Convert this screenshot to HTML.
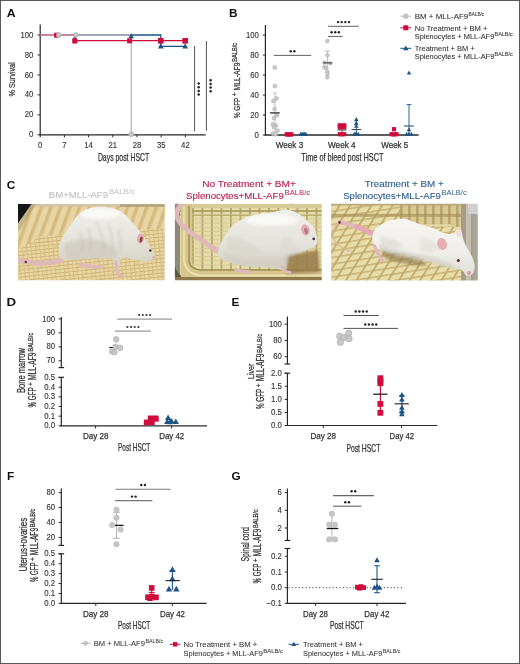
<!DOCTYPE html>
<html><head><meta charset="utf-8"><style>
html,body{margin:0;padding:0;background:#fff;}
svg{display:block;will-change:transform;}
text{font-family:"Liberation Sans", sans-serif;}
</style></head><body>
<svg width="520" height="664" viewBox="0 0 520 664" font-family="'Liberation Sans', sans-serif">
<rect x="0" y="0" width="520" height="664" fill="#fff"/>
<text x="6.70" y="16.60" font-size="11.8" fill="#111" font-weight="bold" textLength="8.90" lengthAdjust="spacingAndGlyphs" >A</text>
<text x="228.90" y="16.50" font-size="11.8" fill="#111" font-weight="bold" >B</text>
<text x="6.80" y="188.90" font-size="11.8" fill="#111" font-weight="bold" >C</text>
<text x="6.40" y="306.00" font-size="11.8" fill="#111" font-weight="bold" textLength="9.60" lengthAdjust="spacingAndGlyphs" >D</text>
<text x="231.60" y="306.00" font-size="11.8" fill="#111" font-weight="bold" >E</text>
<text x="7.00" y="479.70" font-size="11.8" fill="#111" font-weight="bold" >F</text>
<text x="231.40" y="479.90" font-size="11.8" fill="#111" font-weight="bold" >G</text>
<line x1="40.20" y1="24.40" x2="40.20" y2="135.30" stroke="#282828" stroke-width="1.2" />
<line x1="39.60" y1="134.80" x2="205.60" y2="134.80" stroke="#282828" stroke-width="1.2" />
<line x1="37.60" y1="134.80" x2="40.20" y2="134.80" stroke="#282828" stroke-width="1" />
<text x="33.40" y="137.40" font-size="8.4" fill="#333" stroke="#333" stroke-width="0.12" text-anchor="end" textLength="4.30" lengthAdjust="spacingAndGlyphs" >0</text>
<line x1="37.60" y1="114.84" x2="40.20" y2="114.84" stroke="#282828" stroke-width="1" />
<text x="33.40" y="117.44" font-size="8.4" fill="#333" stroke="#333" stroke-width="0.12" text-anchor="end" textLength="8.60" lengthAdjust="spacingAndGlyphs" >20</text>
<line x1="37.60" y1="94.88" x2="40.20" y2="94.88" stroke="#282828" stroke-width="1" />
<text x="33.40" y="97.48" font-size="8.4" fill="#333" stroke="#333" stroke-width="0.12" text-anchor="end" textLength="8.60" lengthAdjust="spacingAndGlyphs" >40</text>
<line x1="37.60" y1="74.92" x2="40.20" y2="74.92" stroke="#282828" stroke-width="1" />
<text x="33.40" y="77.52" font-size="8.4" fill="#333" stroke="#333" stroke-width="0.12" text-anchor="end" textLength="8.60" lengthAdjust="spacingAndGlyphs" >60</text>
<line x1="37.60" y1="54.96" x2="40.20" y2="54.96" stroke="#282828" stroke-width="1" />
<text x="33.40" y="57.56" font-size="8.4" fill="#333" stroke="#333" stroke-width="0.12" text-anchor="end" textLength="8.60" lengthAdjust="spacingAndGlyphs" >80</text>
<line x1="37.60" y1="35.00" x2="40.20" y2="35.00" stroke="#282828" stroke-width="1" />
<text x="33.40" y="37.60" font-size="8.4" fill="#333" stroke="#333" stroke-width="0.12" text-anchor="end" textLength="12.90" lengthAdjust="spacingAndGlyphs" >100</text>
<line x1="40.20" y1="134.80" x2="40.20" y2="137.40" stroke="#282828" stroke-width="1" />
<text x="40.20" y="148.00" font-size="8.4" fill="#333" stroke="#333" stroke-width="0.12" text-anchor="middle" textLength="4.30" lengthAdjust="spacingAndGlyphs" >0</text>
<line x1="64.40" y1="134.80" x2="64.40" y2="137.40" stroke="#282828" stroke-width="1" />
<text x="64.40" y="148.00" font-size="8.4" fill="#333" stroke="#333" stroke-width="0.12" text-anchor="middle" textLength="4.30" lengthAdjust="spacingAndGlyphs" >7</text>
<line x1="88.60" y1="134.80" x2="88.60" y2="137.40" stroke="#282828" stroke-width="1" />
<text x="88.60" y="148.00" font-size="8.4" fill="#333" stroke="#333" stroke-width="0.12" text-anchor="middle" textLength="8.60" lengthAdjust="spacingAndGlyphs" >14</text>
<line x1="112.80" y1="134.80" x2="112.80" y2="137.40" stroke="#282828" stroke-width="1" />
<text x="112.80" y="148.00" font-size="8.4" fill="#333" stroke="#333" stroke-width="0.12" text-anchor="middle" textLength="8.60" lengthAdjust="spacingAndGlyphs" >21</text>
<line x1="137.00" y1="134.80" x2="137.00" y2="137.40" stroke="#282828" stroke-width="1" />
<text x="137.00" y="148.00" font-size="8.4" fill="#333" stroke="#333" stroke-width="0.12" text-anchor="middle" textLength="8.60" lengthAdjust="spacingAndGlyphs" >28</text>
<line x1="161.20" y1="134.80" x2="161.20" y2="137.40" stroke="#282828" stroke-width="1" />
<text x="161.20" y="148.00" font-size="8.4" fill="#333" stroke="#333" stroke-width="0.12" text-anchor="middle" textLength="8.60" lengthAdjust="spacingAndGlyphs" >35</text>
<line x1="185.40" y1="134.80" x2="185.40" y2="137.40" stroke="#282828" stroke-width="1" />
<text x="185.40" y="148.00" font-size="8.4" fill="#333" stroke="#333" stroke-width="0.12" text-anchor="middle" textLength="8.60" lengthAdjust="spacingAndGlyphs" >42</text>
<text x="97.90" y="161.30" font-size="10.2" fill="#333" stroke="#333" stroke-width="0.25" textLength="51.30" lengthAdjust="spacingAndGlyphs" >Days post HSCT</text>
<g transform="translate(15.40 96.50) rotate(-90)"><text x="0" y="0" font-size="9.6" fill="#333" stroke="#333" stroke-width="0.25" textLength="34.20" lengthAdjust="spacingAndGlyphs">% Survival</text></g>
<polyline points="40.2,35.000000000000014 74.8,35.000000000000014 74.8,40.6 185.2,40.6" fill="none" stroke="#cf0a3c" stroke-width="1.3"/>
<polyline points="74.8,35.000000000000014 160.8,35.000000000000014 160.8,46.3 185.2,46.3" fill="none" stroke="#1d5487" stroke-width="1.3"/>
<polyline points="40.2,35.000000000000014 74.8,35.000000000000014" fill="none" stroke="#b9b9b9" stroke-width="1.3" opacity="0.75"/>
<polyline points="74.8,35.000000000000014 131.3,35.000000000000014 131.3,134.8" fill="none" stroke="#b9b9b9" stroke-width="1.3"/>
<rect x="54.10" y="32.70" width="5" height="5" fill="#cf0a3c"/>
<circle cx="58.80" cy="35.00" r="2.5" fill="#c4c4c4" stroke="#aaa" stroke-width="0.6"/>
<path d="M74.80 35.53L77.55 40.48L72.05 40.48Z" fill="#1d5487"/>
<rect x="72.30" y="38.50" width="5" height="5" fill="#cf0a3c"/>
<circle cx="75.80" cy="35.00" r="2.5" fill="#c4c4c4" stroke="#aaa" stroke-width="0.6"/>
<path d="M131.20 33.33L133.95 38.28L128.45 38.28Z" fill="#1d5487"/>
<rect x="127.10" y="38.30" width="5" height="5" fill="#cf0a3c"/>
<circle cx="131.30" cy="134.20" r="2.5" fill="#c4c4c4" stroke="#aaa" stroke-width="0.6"/>
<rect x="158.00" y="38.00" width="5.6" height="5.6" fill="#cf0a3c"/>
<path d="M160.80 43.37L163.70 48.59L157.90 48.59Z" fill="#1d5487"/>
<rect x="182.40" y="38.00" width="5.6" height="5.6" fill="#cf0a3c"/>
<path d="M185.20 43.37L188.10 48.59L182.30 48.59Z" fill="#1d5487"/>
<line x1="194.60" y1="46.00" x2="194.60" y2="131.30" stroke="#555" stroke-width="1" />
<line x1="206.40" y1="41.00" x2="206.40" y2="130.60" stroke="#555" stroke-width="1" />
<circle cx="198.7" cy="83.50" r="1.25" fill="#222"/>
<circle cx="198.7" cy="87.20" r="1.25" fill="#222"/>
<circle cx="198.7" cy="90.90" r="1.25" fill="#222"/>
<circle cx="198.7" cy="94.60" r="1.25" fill="#222"/>
<circle cx="210.6" cy="80.20" r="1.25" fill="#222"/>
<circle cx="210.6" cy="83.90" r="1.25" fill="#222"/>
<circle cx="210.6" cy="87.60" r="1.25" fill="#222"/>
<circle cx="210.6" cy="91.30" r="1.25" fill="#222"/>
<line x1="265.40" y1="25.00" x2="265.40" y2="135.50" stroke="#282828" stroke-width="1.2" />
<line x1="264.80" y1="135.00" x2="418.60" y2="135.00" stroke="#282828" stroke-width="1.5" />
<line x1="262.80" y1="135.00" x2="265.40" y2="135.00" stroke="#282828" stroke-width="1" />
<text x="258.90" y="137.60" font-size="8.4" fill="#333" stroke="#333" stroke-width="0.12" text-anchor="end" textLength="4.30" lengthAdjust="spacingAndGlyphs" >0</text>
<line x1="262.80" y1="115.00" x2="265.40" y2="115.00" stroke="#282828" stroke-width="1" />
<text x="258.90" y="117.60" font-size="8.4" fill="#333" stroke="#333" stroke-width="0.12" text-anchor="end" textLength="8.60" lengthAdjust="spacingAndGlyphs" >20</text>
<line x1="262.80" y1="95.00" x2="265.40" y2="95.00" stroke="#282828" stroke-width="1" />
<text x="258.90" y="97.60" font-size="8.4" fill="#333" stroke="#333" stroke-width="0.12" text-anchor="end" textLength="8.60" lengthAdjust="spacingAndGlyphs" >40</text>
<line x1="262.80" y1="75.00" x2="265.40" y2="75.00" stroke="#282828" stroke-width="1" />
<text x="258.90" y="77.60" font-size="8.4" fill="#333" stroke="#333" stroke-width="0.12" text-anchor="end" textLength="8.60" lengthAdjust="spacingAndGlyphs" >60</text>
<line x1="262.80" y1="55.00" x2="265.40" y2="55.00" stroke="#282828" stroke-width="1" />
<text x="258.90" y="57.60" font-size="8.4" fill="#333" stroke="#333" stroke-width="0.12" text-anchor="end" textLength="8.60" lengthAdjust="spacingAndGlyphs" >80</text>
<line x1="262.80" y1="35.00" x2="265.40" y2="35.00" stroke="#282828" stroke-width="1" />
<text x="258.90" y="37.60" font-size="8.4" fill="#333" stroke="#333" stroke-width="0.12" text-anchor="end" textLength="12.90" lengthAdjust="spacingAndGlyphs" >100</text>
<g transform="translate(239.90 118.00) rotate(-90)">
<text x="0" y="0" font-size="9.6" fill="#333" stroke="#333" stroke-width="0.25" textLength="20.15" lengthAdjust="spacingAndGlyphs">% GFP</text>
<text x="21.66" y="-3.2" font-size="6.4" fill="#333" stroke="#333" stroke-width="0.25">+</text>
<text x="27.60" y="0" font-size="9.6" fill="#333" stroke="#333" stroke-width="0.25" textLength="27.82" lengthAdjust="spacingAndGlyphs">MLL-AF9</text>
<text x="56.25" y="-2.8" font-size="6.8" fill="#333" stroke="#333" stroke-width="0.25" textLength="18.95" lengthAdjust="spacingAndGlyphs">BALB/c</text>
</g>
<text x="275.80" y="147.80" font-size="8.7" fill="#333" stroke="#333" stroke-width="0.25" textLength="27.40" lengthAdjust="spacingAndGlyphs" >Week 3</text>
<text x="328.00" y="147.80" font-size="8.7" fill="#333" stroke="#333" stroke-width="0.25" textLength="27.60" lengthAdjust="spacingAndGlyphs" >Week 4</text>
<text x="381.30" y="147.80" font-size="8.7" fill="#333" stroke="#333" stroke-width="0.25" textLength="27.00" lengthAdjust="spacingAndGlyphs" >Week 5</text>
<text x="301.30" y="160.80" font-size="10.2" fill="#333" stroke="#333" stroke-width="0.25" textLength="82.20" lengthAdjust="spacingAndGlyphs" >Time of bleed post HSCT</text>
<line x1="275.00" y1="93.10" x2="275.00" y2="134.00" stroke="#b0b0b0" stroke-width="0.8" />
<line x1="272.90" y1="93.10" x2="277.10" y2="93.10" stroke="#b0b0b0" stroke-width="0.8" />
<circle cx="274.90" cy="67.50" r="2.0" fill="#c9c9c9" stroke="#adadad" stroke-width="0.5"/>
<circle cx="274.90" cy="86.00" r="2.0" fill="#c9c9c9" stroke="#adadad" stroke-width="0.5"/>
<circle cx="276.30" cy="98.40" r="2.0" fill="#c9c9c9" stroke="#adadad" stroke-width="0.5"/>
<circle cx="273.40" cy="100.90" r="2.0" fill="#c9c9c9" stroke="#adadad" stroke-width="0.5"/>
<circle cx="274.60" cy="108.90" r="2.0" fill="#c9c9c9" stroke="#adadad" stroke-width="0.5"/>
<circle cx="276.90" cy="115.20" r="2.0" fill="#c9c9c9" stroke="#adadad" stroke-width="0.5"/>
<circle cx="274.00" cy="118.00" r="2.0" fill="#c9c9c9" stroke="#adadad" stroke-width="0.5"/>
<circle cx="272.90" cy="124.40" r="2.0" fill="#c9c9c9" stroke="#adadad" stroke-width="0.5"/>
<circle cx="275.70" cy="125.50" r="2.0" fill="#c9c9c9" stroke="#adadad" stroke-width="0.5"/>
<circle cx="274.00" cy="127.20" r="2.0" fill="#c9c9c9" stroke="#adadad" stroke-width="0.5"/>
<circle cx="277.40" cy="130.60" r="2.0" fill="#c9c9c9" stroke="#adadad" stroke-width="0.5"/>
<circle cx="272.90" cy="133.60" r="2.0" fill="#c9c9c9" stroke="#adadad" stroke-width="0.5"/>
<circle cx="275.50" cy="134.20" r="2.0" fill="#c9c9c9" stroke="#adadad" stroke-width="0.5"/>
<line x1="270.00" y1="112.90" x2="279.70" y2="112.90" stroke="#222" stroke-width="1.2" />
<rect x="284.50" y="132.30" width="4.2" height="4.2" fill="#cf0a3c"/>
<rect x="286.10" y="132.30" width="4.2" height="4.2" fill="#cf0a3c"/>
<rect x="287.70" y="132.30" width="4.2" height="4.2" fill="#cf0a3c"/>
<rect x="289.30" y="132.30" width="4.2" height="4.2" fill="#cf0a3c"/>
<path d="M300.70 131.72L303.00 135.86L298.40 135.86Z" fill="#1d5487"/>
<path d="M302.00 131.72L304.30 135.86L299.70 135.86Z" fill="#1d5487"/>
<path d="M303.30 131.72L305.60 135.86L301.00 135.86Z" fill="#1d5487"/>
<path d="M304.60 131.72L306.90 135.86L302.30 135.86Z" fill="#1d5487"/>
<path d="M305.90 131.72L308.20 135.86L303.60 135.86Z" fill="#1d5487"/>
<line x1="327.40" y1="51.00" x2="327.40" y2="75.00" stroke="#b0b0b0" stroke-width="0.8" />
<line x1="324.60" y1="51.00" x2="330.20" y2="51.00" stroke="#b0b0b0" stroke-width="0.8" />
<circle cx="327.40" cy="41.00" r="1.9" fill="#c9c9c9" stroke="#adadad" stroke-width="0.5"/>
<circle cx="327.40" cy="55.20" r="1.9" fill="#c9c9c9" stroke="#adadad" stroke-width="0.5"/>
<circle cx="324.50" cy="62.60" r="1.9" fill="#c9c9c9" stroke="#adadad" stroke-width="0.5"/>
<circle cx="330.30" cy="63.40" r="1.9" fill="#c9c9c9" stroke="#adadad" stroke-width="0.5"/>
<circle cx="324.40" cy="67.20" r="1.9" fill="#c9c9c9" stroke="#adadad" stroke-width="0.5"/>
<circle cx="326.40" cy="68.00" r="1.9" fill="#c9c9c9" stroke="#adadad" stroke-width="0.5"/>
<circle cx="327.40" cy="71.90" r="1.9" fill="#c9c9c9" stroke="#adadad" stroke-width="0.5"/>
<circle cx="327.40" cy="74.20" r="1.9" fill="#c9c9c9" stroke="#adadad" stroke-width="0.5"/>
<circle cx="327.40" cy="77.30" r="1.9" fill="#c9c9c9" stroke="#adadad" stroke-width="0.5"/>
<line x1="323.30" y1="62.90" x2="332.30" y2="62.90" stroke="#333" stroke-width="1.0" />
<line x1="342.00" y1="125.00" x2="342.00" y2="134.00" stroke="#cf0a3c" stroke-width="0.8" />
<rect x="337.70" y="123.20" width="4.2" height="4.2" fill="#cf0a3c"/>
<rect x="342.10" y="123.20" width="4.2" height="4.2" fill="#cf0a3c"/>
<rect x="337.70" y="125.10" width="4.2" height="4.2" fill="#cf0a3c"/>
<rect x="342.10" y="125.10" width="4.2" height="4.2" fill="#cf0a3c"/>
<rect x="339.90" y="123.90" width="4.2" height="4.2" fill="#cf0a3c"/>
<rect x="337.70" y="132.10" width="4.2" height="4.2" fill="#cf0a3c"/>
<rect x="342.10" y="132.10" width="4.2" height="4.2" fill="#cf0a3c"/>
<rect x="339.90" y="132.10" width="4.2" height="4.2" fill="#cf0a3c"/>
<line x1="337.50" y1="130.00" x2="346.50" y2="130.00" stroke="#333" stroke-width="1" />
<line x1="356.30" y1="119.00" x2="356.30" y2="134.00" stroke="#1d5487" stroke-width="0.8" />
<path d="M356.30 117.12L358.60 121.26L354.00 121.26Z" fill="#1d5487"/>
<path d="M356.30 120.82L358.60 124.96L354.00 124.96Z" fill="#1d5487"/>
<path d="M356.30 123.72L358.60 127.86L354.00 127.86Z" fill="#1d5487"/>
<path d="M354.30 131.72L356.60 135.86L352.00 135.86Z" fill="#1d5487"/>
<path d="M358.30 131.72L360.60 135.86L356.00 135.86Z" fill="#1d5487"/>
<path d="M356.30 131.12L358.60 135.26L354.00 135.26Z" fill="#1d5487"/>
<line x1="351.50" y1="129.60" x2="361.10" y2="129.60" stroke="#333" stroke-width="1" />
<rect x="391.90" y="127.10" width="4.2" height="4.2" fill="#cf0a3c"/>
<rect x="389.40" y="132.10" width="4.2" height="4.2" fill="#cf0a3c"/>
<rect x="394.40" y="132.10" width="4.2" height="4.2" fill="#cf0a3c"/>
<rect x="391.90" y="132.30" width="4.2" height="4.2" fill="#cf0a3c"/>
<line x1="409.00" y1="104.60" x2="409.00" y2="134.00" stroke="#1d5487" stroke-width="0.9" />
<line x1="406.60" y1="104.60" x2="411.40" y2="104.60" stroke="#1d5487" stroke-width="0.9" />
<line x1="404.00" y1="126.00" x2="413.80" y2="126.00" stroke="#1d5487" stroke-width="1.1" />
<path d="M409.00 70.42L411.20 74.38L406.80 74.38Z" fill="#1d5487"/>
<path d="M409.00 127.22L411.20 131.18L406.80 131.18Z" fill="#1d5487"/>
<path d="M406.60 131.82L408.80 135.78L404.40 135.78Z" fill="#1d5487"/>
<path d="M411.40 131.82L413.60 135.78L409.20 135.78Z" fill="#1d5487"/>
<path d="M409.00 131.82L411.20 135.78L406.80 135.78Z" fill="#1d5487"/>
<line x1="273.75" y1="55.40" x2="311.25" y2="55.40" stroke="#5a5a5a" stroke-width="0.95" />
<circle cx="290.68" cy="51.30" r="1.2" fill="#222"/>
<circle cx="294.32" cy="51.30" r="1.2" fill="#222"/>
<line x1="327.90" y1="36.40" x2="342.60" y2="36.40" stroke="#5a5a5a" stroke-width="0.95" />
<circle cx="331.60" cy="32.20" r="1.2" fill="#222"/>
<circle cx="335.25" cy="32.20" r="1.2" fill="#222"/>
<circle cx="338.90" cy="32.20" r="1.2" fill="#222"/>
<line x1="328.20" y1="26.30" x2="358.80" y2="26.30" stroke="#5a5a5a" stroke-width="0.95" />
<circle cx="338.02" cy="22.10" r="1.2" fill="#222"/>
<circle cx="341.67" cy="22.10" r="1.2" fill="#222"/>
<circle cx="345.32" cy="22.10" r="1.2" fill="#222"/>
<circle cx="348.97" cy="22.10" r="1.2" fill="#222"/>
<line x1="400.30" y1="16.20" x2="411.30" y2="16.20" stroke="#bbb" stroke-width="1" />
<circle cx="405.80" cy="16.20" r="2.4" fill="#c4c4c4" stroke="#b0b0b0" stroke-width="0.5"/>
<line x1="400.30" y1="27.80" x2="411.30" y2="27.80" stroke="#cf0a3c" stroke-width="1" />
<rect x="403.30" y="25.30" width="5.0" height="5.0" fill="#cf0a3c"/>
<line x1="400.30" y1="48.30" x2="411.30" y2="48.30" stroke="#1d5487" stroke-width="1" />
<path d="M405.80 45.38L408.50 50.24L403.10 50.24Z" fill="#1d5487"/>
<text x="414.70" y="19.00" font-size="7.6" fill="#333" stroke="#333" stroke-width="0.08" textLength="53.60" lengthAdjust="spacingAndGlyphs" >BM + MLL-AF9</text>
<text x="468.60" y="15.60" font-size="5.2" fill="#333" stroke="#333" stroke-width="0.08" textLength="15.60" lengthAdjust="spacingAndGlyphs" >BALB/c</text>
<text x="414.70" y="30.90" font-size="7.6" fill="#333" stroke="#333" stroke-width="0.08" textLength="72.80" lengthAdjust="spacingAndGlyphs" >No Treatment + BM +</text>
<text x="414.70" y="39.30" font-size="7.6" fill="#333" stroke="#333" stroke-width="0.08" textLength="79.60" lengthAdjust="spacingAndGlyphs" >Splenocytes + MLL-AF9</text>
<text x="494.60" y="35.90" font-size="5.2" fill="#333" stroke="#333" stroke-width="0.08" textLength="18.00" lengthAdjust="spacingAndGlyphs" >BALB/c</text>
<text x="414.70" y="51.00" font-size="7.6" fill="#333" stroke="#333" stroke-width="0.08" textLength="60.00" lengthAdjust="spacingAndGlyphs" >Treatment + BM +</text>
<text x="414.70" y="59.40" font-size="7.6" fill="#333" stroke="#333" stroke-width="0.08" textLength="79.60" lengthAdjust="spacingAndGlyphs" >Splenocytes + MLL-AF9</text>
<text x="494.60" y="56.00" font-size="5.2" fill="#333" stroke="#333" stroke-width="0.08" textLength="18.00" lengthAdjust="spacingAndGlyphs" >BALB/c</text>
<defs>
<filter id="bl" x="-5%" y="-5%" width="110%" height="110%"><feGaussianBlur stdDeviation="0.75"/></filter>
<filter id="bl2" x="-30%" y="-30%" width="160%" height="160%"><feGaussianBlur stdDeviation="1.8"/></filter>
<filter id="bl3" x="-30%" y="-30%" width="160%" height="160%"><feGaussianBlur stdDeviation="3"/></filter>
<pattern id="p1" patternUnits="userSpaceOnUse" width="9" height="9" patternTransform="rotate(20)">
<rect width="9" height="9" fill="#e7d5a3"/><rect width="3.6" height="9" fill="#d5bb80"/></pattern>
<pattern id="p1b" patternUnits="userSpaceOnUse" width="4.4" height="3.6" patternTransform="rotate(-6)">
<rect width="4.4" height="3.6" fill="#ead9a6"/><rect width="4.4" height="1.0" fill="#c9ad6e"/><rect width="1.0" height="3.6" fill="#d4ba7e"/></pattern>
<pattern id="p2" patternUnits="userSpaceOnUse" width="9.5" height="4.2" x="2">
<rect width="9.5" height="4.2" fill="#e4dbab"/><rect width="1.8" height="4.2" fill="#b9a768"/><rect width="9.5" height="0.7" fill="#d3c68c"/></pattern>
<pattern id="p3" patternUnits="userSpaceOnUse" width="9" height="9" patternTransform="rotate(32)">
<rect width="9" height="9" fill="#e8dda9"/><rect width="1.6" height="9" fill="#bba466"/></pattern>
<pattern id="p3h" patternUnits="userSpaceOnUse" width="9" height="6.5" patternTransform="rotate(-9)">
<rect width="9" height="1.5" fill="#c0aa6c"/></pattern>
<pattern id="p3b" patternUnits="userSpaceOnUse" width="8" height="20">
<rect width="8" height="20" fill="#d8c893"/><rect width="2.6" height="20" fill="#b9a46a"/></pattern>
<linearGradient id="wb1" x1="0" y1="0" x2="0" y2="1"><stop offset="0" stop-color="#f1f0ec"/><stop offset="0.5" stop-color="#e6e4dd"/><stop offset="1" stop-color="#d2cec2"/></linearGradient>
<linearGradient id="wb2" x1="0" y1="0" x2="0" y2="1"><stop offset="0" stop-color="#efeeea"/><stop offset="0.55" stop-color="#e3e2dc"/><stop offset="1" stop-color="#d0cdc2"/></linearGradient>
<linearGradient id="wb3" x1="0" y1="0" x2="0" y2="1"><stop offset="0" stop-color="#f6f5f2"/><stop offset="0.6" stop-color="#efeeea"/><stop offset="1" stop-color="#e0ddd6"/></linearGradient>
<clipPath id="c1"><rect x="18" y="204.1" width="146.8" height="76.2"/></clipPath>
<clipPath id="c2"><rect x="174.9" y="203.8" width="146.9" height="76.5"/></clipPath>
<clipPath id="c3"><rect x="331.1" y="203.8" width="146.7" height="76.6"/></clipPath>
</defs>
<g clip-path="url(#c1)"><g filter="url(#bl)">
<rect x="18" y="204" width="147" height="77" fill="url(#p1)"/>
<path d="M18 250 L40 236 L165 228 L165 281 L18 281 Z" fill="url(#p1b)" opacity="0.85"/>
<rect x="18" y="204" width="147" height="2.6" fill="#cfc6a8"/>
<rect x="120" y="204" width="45" height="3" fill="#a89a70" opacity="0.7"/>
<path d="M16 202 L33 202 L26 212 L16 226 Z" fill="#151515"/>
<path d="M33 202 L37 202 L20 230 L16 232 L16 226 Z" fill="#8a7a5a" opacity="0.35"/>
<path d="M15.0 259.5C16.7 259.8 21.0 260.9 25.0 261.5C29.0 262.1 34.8 263.1 39.0 263.3C43.2 263.5 46.3 263.0 50.0 262.5C53.7 262.0 59.2 260.8 61.0 260.5" fill="none" stroke="#dfb9ba" stroke-width="5.0" stroke-linecap="round" stroke-linejoin="round" opacity="1"/>
<circle cx="25.8" cy="262" r="1.3" fill="#5a3a3a"/>
<path d="M60.0 258.0C58.2 255.8 59.2 249.3 59.5 246.0C59.8 242.7 60.1 241.5 62.0 238.0C63.9 234.5 67.8 229.0 70.6 225.0C73.4 221.0 75.4 216.9 79.0 214.0C82.6 211.1 87.7 208.7 92.0 207.5C96.3 206.3 101.5 206.8 105.0 207.0C108.5 207.2 110.2 207.5 113.3 208.5C116.3 209.5 120.2 210.8 123.3 213.0C126.4 215.2 129.2 219.2 131.8 222.0C134.4 224.8 136.6 227.0 139.0 230.0C141.4 233.0 144.0 237.0 146.0 240.0C148.0 243.0 149.6 245.3 151.0 248.0C152.4 250.7 154.3 254.1 154.5 256.0C154.7 257.9 153.4 258.6 152.0 259.5C150.6 260.4 148.3 261.4 146.0 261.5C143.7 261.6 141.0 260.5 138.0 260.0C135.0 259.5 130.8 258.7 128.0 258.5C125.2 258.3 122.5 257.4 121.0 259.0C119.5 260.6 120.0 266.5 119.0 268.0C118.0 269.5 116.2 269.5 115.0 268.0C113.8 266.5 114.5 260.7 112.0 259.0C109.5 257.3 104.5 258.1 100.0 258.0C95.5 257.9 90.0 258.2 85.0 258.5C80.0 258.8 74.2 259.6 70.0 259.5C65.8 259.4 61.8 260.2 60.0 258.0Z" fill="url(#wb1)"/>
<g filter="url(#bl2)">
<path d="M64 244 Q80 236 98 240 Q112 244 118 252 L116 258 Q95 259 70 259 Q62 254 64 244Z" fill="#cfcbc0" opacity="0.75"/>
<path d="M96 222 Q104 236 104 250 M108 224 Q114 238 112 252 M88 228 Q92 240 90 250 M80 232 Q84 242 82 252 M118 230 Q122 240 120 250" stroke="#bdbab0" stroke-width="1.3" fill="none" opacity="0.65"/>
<ellipse cx="100" cy="214" rx="20" ry="5" fill="#fbfbfa" opacity="0.9"/>
</g>
<path d="M80.0 264.5C81.7 264.8 86.5 266.1 90.0 266.5C93.5 266.9 99.2 266.9 101.0 267.0" fill="none" stroke="#dfb9ba" stroke-width="3.6" stroke-linecap="round" stroke-linejoin="round" opacity="1"/>
<path d="M116.0 262.0C116.2 263.3 116.5 267.8 117.0 270.0C117.5 272.2 118.7 274.6 119.0 275.5" fill="none" stroke="#dfb9ba" stroke-width="3.2" stroke-linecap="round" stroke-linejoin="round" opacity="1"/>
<path d="M119.0 275.5C119.7 275.6 122.3 275.9 123.0 276.0" fill="none" stroke="#dfb9ba" stroke-width="2.6" stroke-linecap="round" stroke-linejoin="round" opacity="1"/>
<ellipse cx="140.5" cy="238.5" rx="3.4" ry="5.2" fill="#e4a9b2" transform="rotate(12 140.5 238.5)"/>
<ellipse cx="141.2" cy="239.5" rx="1.5" ry="3" fill="#8a4a55" transform="rotate(12 141.2 239.5)"/>
<circle cx="150.3" cy="250.5" r="1.3" fill="#3e3438"/>
<circle cx="153.6" cy="257.4" r="1.2" fill="#d9a8ad"/>
</g></g>
<g clip-path="url(#c2)"><g filter="url(#bl)">
<rect x="175" y="204" width="147" height="77" fill="url(#p2)"/>
<rect x="175" y="204" width="147" height="4" fill="#d6cc9a"/>
<rect x="175" y="210.4" width="147" height="1.3" fill="#9c8c50"/>
<rect x="175" y="214.8" width="147" height="1.0" fill="#b4a468"/>
<path d="M174 203 L180 203 L180 281 L174 281 Z" fill="#8d887a"/>
<path d="M174 262 Q176 276 190 281 L174 281 Z" fill="#5e5840"/>
<path d="M181 204 L192 204 L192 262 Q194 270 204 271 L322 271 L322 281 L181 281 Z" fill="#d6c68c"/>
<path d="M184 206 L184 262 Q187 274 200 275.5 L322 275.5" fill="none" stroke="#efe4b4" stroke-width="1.6"/>
<path d="M189 206 L189 262 Q191 269 200 270 L322 270" fill="none" stroke="#9f8a4c" stroke-width="1.4"/>
<rect x="175" y="277" width="147" height="4" fill="#8f7a4c"/>
<path d="M182.0 203.0C181.3 204.0 178.9 207.1 178.0 209.0C177.1 210.9 176.3 212.7 176.5 214.7C176.7 216.7 177.9 219.1 179.0 221.0C180.1 222.9 181.2 224.2 183.0 226.0C184.8 227.8 187.7 230.2 190.0 232.0C192.3 233.8 194.3 235.1 197.0 237.0C199.7 238.9 203.5 241.8 206.0 243.5C208.5 245.2 209.8 246.2 212.0 247.5C214.2 248.8 217.8 250.8 219.0 251.5" fill="none" stroke="#dfb9ba" stroke-width="5.0" stroke-linecap="round" stroke-linejoin="round" opacity="1"/>
<path d="M286 203 Q292 206 296 203 Z" fill="#dcb6b0"/>
<path d="M218.0 252.0C218.1 249.7 219.1 246.9 220.4 244.0C221.7 241.1 223.7 237.9 226.0 234.6C228.3 231.3 230.2 227.3 234.2 224.2C238.2 221.1 244.0 217.9 250.0 216.0C256.0 214.1 263.8 213.6 270.0 212.5C276.2 211.4 282.2 209.4 287.0 209.7C291.8 209.9 295.4 211.9 299.0 214.0C302.6 216.1 306.0 219.3 308.7 222.0C311.4 224.7 313.6 227.3 315.0 230.0C316.4 232.7 316.8 235.5 317.0 238.0C317.2 240.5 317.8 242.7 316.0 244.8C314.2 246.9 310.0 248.4 306.0 250.5C302.0 252.6 295.2 255.0 292.0 257.6C288.8 260.2 288.2 263.6 287.0 266.0C285.8 268.4 285.6 271.3 284.6 272.0C283.6 272.7 283.4 270.8 281.0 270.0C278.6 269.2 274.3 268.0 270.0 267.5C265.7 267.0 260.0 267.4 255.0 267.0C250.0 266.6 244.5 265.8 240.0 265.0C235.5 264.2 231.3 263.2 228.0 262.0C224.7 260.8 221.7 259.7 220.0 258.0C218.3 256.3 217.9 254.3 218.0 252.0Z" fill="url(#wb2)"/>
<g filter="url(#bl2)">
<path d="M224 252 Q250 262 278 258 Q290 254 298 250 Q292 262 284 268 Q260 268 236 264 Q224 260 224 252Z" fill="#d2cec2" opacity="0.75"/>
<path d="M228 236 Q250 240 262 252 Q250 258 232 254 Q224 246 228 236Z" fill="#d9d6cc" opacity="0.7"/>
<path d="M284 236 Q296 240 300 250 Q292 256 282 252 Q278 244 284 236Z" fill="#dcd9d0" opacity="0.6"/>
<ellipse cx="272" cy="220" rx="26" ry="6" fill="#fafaf8" opacity="0.9"/>
<path d="M288 256 Q304 252 318 250 L320 272 L286 274 Z" fill="#957a48" opacity="0.85"/>
</g>
<path d="M236.0 269.5C237.2 269.8 240.7 271.1 243.0 271.5C245.3 271.9 248.8 271.9 250.0 272.0" fill="none" stroke="#dfb9ba" stroke-width="3.4" stroke-linecap="round" stroke-linejoin="round" opacity="1"/>
<path d="M282.0 266.0C282.5 266.8 283.7 269.9 285.0 271.0C286.3 272.1 289.2 272.2 290.0 272.5" fill="none" stroke="#dfb9ba" stroke-width="3.0" stroke-linecap="round" stroke-linejoin="round" opacity="1"/>
<ellipse cx="305.5" cy="230" rx="4.2" ry="5.6" fill="#e2acb2" transform="rotate(-15 305.5 230)"/>
<ellipse cx="306" cy="231" rx="1.8" ry="3.2" fill="#b87a85" transform="rotate(-15 306 231)"/>
<circle cx="313.7" cy="238.9" r="1.3" fill="#3e3438"/>
</g></g>
<g clip-path="url(#c3)"><g filter="url(#bl)">
<rect x="331" y="203" width="147" height="78" fill="url(#p3)"/>
<rect x="331" y="203" width="147" height="78" fill="url(#p3h)" opacity="0.85"/>
<rect x="400" y="203" width="62" height="24" fill="url(#p3b)"/>
<rect x="331" y="213.8" width="130" height="3" fill="#a8925a" opacity="0.7"/>
<rect x="405" y="224.3" width="46" height="2.2" fill="#e6d8a8"/>
<rect x="331" y="203" width="147" height="2.5" fill="#b9a87a"/>
<rect x="461" y="203" width="17" height="78" fill="#a59d8b"/>
<rect x="466" y="203" width="5" height="78" fill="#c4beae"/>
<rect x="468" y="203" width="10" height="11" fill="#cfcfcd"/>
<rect x="473" y="214" width="5" height="67" fill="#aaa69a"/>
<path d="M339.5 222.5C340.6 222.7 343.9 223.0 346.0 223.5C348.1 224.0 349.4 224.3 352.3 225.3C355.2 226.3 360.2 228.2 363.7 229.6C367.2 231.0 371.9 233.3 373.5 234.0" fill="none" stroke="#dfb9ba" stroke-width="4.0" stroke-linecap="round" stroke-linejoin="round" opacity="1"/>
<path d="M356.0 226.5C357.3 227.0 360.8 228.3 363.7 229.6C366.6 230.8 371.9 233.3 373.5 234.0" fill="none" stroke="#e2a9b1" stroke-width="5.4" stroke-linecap="round" stroke-linejoin="round" opacity="1"/>
<circle cx="339.5" cy="222.5" r="1.4" fill="#4a3a3a"/>
<path d="M338.0 223.0C337.2 224.2 334.2 227.5 333.5 230.0C332.8 232.5 333.4 235.7 334.0 238.0C334.6 240.3 335.2 242.2 337.0 244.0C338.8 245.8 342.5 247.7 345.0 249.0C347.5 250.3 350.8 251.5 352.0 252.0" fill="none" stroke="#dcb3aa" stroke-width="1.4" stroke-linecap="round" stroke-linejoin="round" opacity="0.8"/>
<path d="M372.3 238.0C372.2 235.8 372.8 233.9 373.7 232.0C374.6 230.1 375.6 228.6 378.0 226.8C380.4 225.0 384.4 222.3 388.0 221.0C391.6 219.7 396.5 219.4 399.3 219.0C402.1 218.6 401.7 218.0 405.0 218.8C408.3 219.6 414.4 222.4 419.2 224.0C423.9 225.6 429.7 226.8 433.5 228.2C437.3 229.6 438.9 231.4 442.0 232.4C445.1 233.4 449.5 234.4 452.0 234.0C454.5 233.6 455.5 230.6 457.0 230.0C458.5 229.4 460.0 229.2 461.0 230.5C462.0 231.8 462.2 235.4 463.0 238.0C463.8 240.6 464.5 243.0 466.0 246.0C467.5 249.0 470.4 252.9 471.9 256.2C473.3 259.5 474.6 263.0 474.7 266.0C474.8 269.0 473.9 272.4 472.5 274.0C471.1 275.6 467.8 276.1 466.0 275.5C464.2 274.9 464.9 271.9 461.9 270.4C458.8 268.8 452.4 267.6 447.7 266.2C443.0 264.8 438.2 263.4 433.5 262.0C428.8 260.6 423.9 259.0 419.2 257.6C414.4 256.2 410.2 254.3 405.0 253.4C399.8 252.5 392.5 252.7 388.0 252.0C383.5 251.3 380.3 250.2 378.0 249.0C375.7 247.8 374.9 246.8 374.0 245.0C373.1 243.2 372.4 240.2 372.3 238.0Z" fill="url(#wb3)"/>
<g filter="url(#bl2)">
<path d="M380 250 Q400 254 420 258 L428 266 Q404 265 386 259 Z" fill="#8e7448" opacity="0.65"/>
<path d="M378 244 Q400 252 430 256 Q450 262 462 270 Q445 268 428 262 Q400 256 380 250Z" fill="#d6d2c8" opacity="0.8"/>
<path d="M380 236 Q395 238 405 246 Q395 250 382 246 Z" fill="#dedbd3" opacity="0.7"/>
<path d="M420 236 Q435 238 440 250 Q430 254 420 250 Z" fill="#e0ddd6" opacity="0.6"/>
</g>
<path d="M374.5 246.0C374.9 247.0 375.9 250.0 377.0 252.0C378.1 254.0 380.0 256.5 381.0 258.0C382.0 259.5 382.7 260.5 383.0 261.0" fill="none" stroke="#dfb9ba" stroke-width="3.2" stroke-linecap="round" stroke-linejoin="round" opacity="1"/>
<ellipse cx="442" cy="244" rx="4.8" ry="6.2" fill="#e6afb5" transform="rotate(-20 442 244)"/>
<ellipse cx="459" cy="233.5" rx="2.6" ry="3.8" fill="#f2dcdc"/>
<circle cx="458.3" cy="260.5" r="1.5" fill="#6a2030"/>
<circle cx="469" cy="273" r="2" fill="#dc9ca4"/>
</g></g>
<text x="48.80" y="198.20" font-size="9.5" fill="#c0c0c0" stroke="#c0c0c0" stroke-width="0.12" textLength="59.20" lengthAdjust="spacingAndGlyphs" >BM+MLL-AF9</text>
<text x="108.90" y="194.30" font-size="6.4" fill="#c0c0c0" textLength="26.00" lengthAdjust="spacingAndGlyphs" >BALB/c</text>
<text x="202.20" y="186.80" font-size="9.5" fill="#b4204c" stroke="#b4204c" stroke-width="0.12" textLength="93.70" lengthAdjust="spacingAndGlyphs" >No Treatment + BM+</text>
<text x="186.00" y="199.20" font-size="9.5" fill="#b4204c" stroke="#b4204c" stroke-width="0.12" textLength="97.80" lengthAdjust="spacingAndGlyphs" >Splenocytes+MLL-AF9</text>
<text x="284.50" y="195.20" font-size="6.4" fill="#b4204c" textLength="25.70" lengthAdjust="spacingAndGlyphs" >BALB/c</text>
<text x="364.80" y="186.80" font-size="9.5" fill="#2d5e8e" stroke="#2d5e8e" stroke-width="0.12" textLength="79.00" lengthAdjust="spacingAndGlyphs" >Treatment + BM +</text>
<text x="343.20" y="199.20" font-size="9.5" fill="#2d5e8e" stroke="#2d5e8e" stroke-width="0.12" textLength="97.80" lengthAdjust="spacingAndGlyphs" >Splenocytes+MLL-AF9</text>
<text x="441.60" y="195.20" font-size="6.4" fill="#2d5e8e" textLength="25.10" lengthAdjust="spacingAndGlyphs" >BALB/c</text>
<line x1="61.30" y1="317.00" x2="61.30" y2="367.60" stroke="#282828" stroke-width="1.2" />
<line x1="58.50" y1="367.60" x2="64.10" y2="367.60" stroke="#282828" stroke-width="1.2" />
<line x1="61.30" y1="377.30" x2="61.30" y2="426.30" stroke="#282828" stroke-width="1.2" />
<line x1="58.50" y1="377.30" x2="64.10" y2="377.30" stroke="#282828" stroke-width="1.2" />
<line x1="60.70" y1="425.80" x2="207.00" y2="425.80" stroke="#282828" stroke-width="1.2" />
<line x1="58.60" y1="318.90" x2="61.30" y2="318.90" stroke="#282828" stroke-width="1" />
<text x="55.10" y="321.50" font-size="8.4" fill="#333" stroke="#333" stroke-width="0.12" text-anchor="end" textLength="12.90" lengthAdjust="spacingAndGlyphs" >100</text>
<line x1="58.60" y1="332.87" x2="61.30" y2="332.87" stroke="#282828" stroke-width="1" />
<text x="55.10" y="335.47" font-size="8.4" fill="#333" stroke="#333" stroke-width="0.12" text-anchor="end" textLength="8.60" lengthAdjust="spacingAndGlyphs" >90</text>
<line x1="58.60" y1="346.84" x2="61.30" y2="346.84" stroke="#282828" stroke-width="1" />
<text x="55.10" y="349.44" font-size="8.4" fill="#333" stroke="#333" stroke-width="0.12" text-anchor="end" textLength="8.60" lengthAdjust="spacingAndGlyphs" >80</text>
<line x1="58.60" y1="360.81" x2="61.30" y2="360.81" stroke="#282828" stroke-width="1" />
<text x="55.10" y="363.41" font-size="8.4" fill="#333" stroke="#333" stroke-width="0.12" text-anchor="end" textLength="8.60" lengthAdjust="spacingAndGlyphs" >70</text>
<line x1="58.60" y1="425.80" x2="61.30" y2="425.80" stroke="#282828" stroke-width="1" />
<text x="55.10" y="428.40" font-size="8.4" fill="#333" stroke="#333" stroke-width="0.12" text-anchor="end" textLength="10.90" lengthAdjust="spacingAndGlyphs" >0.0</text>
<line x1="58.60" y1="416.16" x2="61.30" y2="416.16" stroke="#282828" stroke-width="1" />
<text x="55.10" y="418.76" font-size="8.4" fill="#333" stroke="#333" stroke-width="0.12" text-anchor="end" textLength="10.90" lengthAdjust="spacingAndGlyphs" >0.1</text>
<line x1="58.60" y1="406.52" x2="61.30" y2="406.52" stroke="#282828" stroke-width="1" />
<text x="55.10" y="409.12" font-size="8.4" fill="#333" stroke="#333" stroke-width="0.12" text-anchor="end" textLength="10.90" lengthAdjust="spacingAndGlyphs" >0.2</text>
<line x1="58.60" y1="396.88" x2="61.30" y2="396.88" stroke="#282828" stroke-width="1" />
<text x="55.10" y="399.48" font-size="8.4" fill="#333" stroke="#333" stroke-width="0.12" text-anchor="end" textLength="10.90" lengthAdjust="spacingAndGlyphs" >0.3</text>
<line x1="58.60" y1="387.24" x2="61.30" y2="387.24" stroke="#282828" stroke-width="1" />
<text x="55.10" y="389.84" font-size="8.4" fill="#333" stroke="#333" stroke-width="0.12" text-anchor="end" textLength="10.90" lengthAdjust="spacingAndGlyphs" >0.4</text>
<line x1="58.60" y1="377.60" x2="61.30" y2="377.60" stroke="#282828" stroke-width="1" />
<text x="55.10" y="380.20" font-size="8.4" fill="#333" stroke="#333" stroke-width="0.12" text-anchor="end" textLength="10.90" lengthAdjust="spacingAndGlyphs" >0.5</text>
<line x1="95.60" y1="425.80" x2="95.60" y2="428.40" stroke="#282828" stroke-width="1" />
<line x1="171.60" y1="425.80" x2="171.60" y2="428.40" stroke="#282828" stroke-width="1" />
<text x="82.90" y="438.80" font-size="9.0" fill="#333" stroke="#333" stroke-width="0.25" textLength="25.60" lengthAdjust="spacingAndGlyphs" >Day 28</text>
<text x="159.20" y="438.80" font-size="9.0" fill="#333" stroke="#333" stroke-width="0.25" textLength="25.00" lengthAdjust="spacingAndGlyphs" >Day 42</text>
<text x="118.00" y="451.00" font-size="10.2" fill="#333" stroke="#333" stroke-width="0.25" textLength="32.30" lengthAdjust="spacingAndGlyphs" >Post HSCT</text>
<g transform="translate(24.50 393.00) rotate(-90)"><text x="0" y="0" font-size="10.0" fill="#333" stroke="#333" stroke-width="0.25" textLength="45.00" lengthAdjust="spacingAndGlyphs">Bone marrow</text></g>
<g transform="translate(35.70 407.40) rotate(-90)">
<text x="0" y="0" font-size="10.0" fill="#333" stroke="#333" stroke-width="0.25" textLength="19.99" lengthAdjust="spacingAndGlyphs">% GFP</text>
<text x="21.48" y="-3.2" font-size="6.4" fill="#333" stroke="#333" stroke-width="0.25">+</text>
<text x="27.38" y="0" font-size="10.0" fill="#333" stroke="#333" stroke-width="0.25" textLength="27.60" lengthAdjust="spacingAndGlyphs">MLL-AF9</text>
<text x="55.80" y="-2.8" font-size="6.8" fill="#333" stroke="#333" stroke-width="0.25" textLength="18.80" lengthAdjust="spacingAndGlyphs">BALB/c</text>
</g>
<line x1="117.20" y1="319.20" x2="172.00" y2="319.20" stroke="#9a9a9a" stroke-width="1.3" />
<circle cx="139.12" cy="315.00" r="1.05" fill="#333"/>
<circle cx="142.78" cy="315.00" r="1.05" fill="#333"/>
<circle cx="146.43" cy="315.00" r="1.05" fill="#333"/>
<circle cx="150.07" cy="315.00" r="1.05" fill="#333"/>
<line x1="115.00" y1="331.20" x2="150.80" y2="331.20" stroke="#9a9a9a" stroke-width="1.3" />
<circle cx="127.43" cy="327.00" r="1.05" fill="#333"/>
<circle cx="131.08" cy="327.00" r="1.05" fill="#333"/>
<circle cx="134.73" cy="327.00" r="1.05" fill="#333"/>
<circle cx="138.38" cy="327.00" r="1.05" fill="#333"/>
<line x1="109.40" y1="347.50" x2="121.00" y2="347.50" stroke="#111" stroke-width="1.2" />
<circle cx="116.20" cy="339.40" r="2.8" fill="#c8c8c8" stroke="#a9a9a9" stroke-width="0.6"/>
<circle cx="115.50" cy="346.80" r="2.8" fill="#c8c8c8" stroke="#a9a9a9" stroke-width="0.6"/>
<circle cx="120.20" cy="347.80" r="2.8" fill="#c8c8c8" stroke="#a9a9a9" stroke-width="0.6"/>
<circle cx="112.10" cy="351.50" r="2.8" fill="#c8c8c8" stroke="#a9a9a9" stroke-width="0.6"/>
<circle cx="114.50" cy="352.20" r="2.8" fill="#c8c8c8" stroke="#a9a9a9" stroke-width="0.6"/>
<rect x="147.80" y="415.50" width="5.4" height="5.4" fill="#cf0a3c"/>
<rect x="152.80" y="415.50" width="5.4" height="5.4" fill="#cf0a3c"/>
<rect x="144.30" y="419.60" width="5.4" height="5.4" fill="#cf0a3c"/>
<rect x="149.30" y="419.60" width="5.4" height="5.4" fill="#cf0a3c"/>
<rect x="143.80" y="419.90" width="5.4" height="5.4" fill="#cf0a3c"/>
<rect x="153.30" y="416.30" width="5.4" height="5.4" fill="#cf0a3c"/>
<path d="M168.10 414.45L171.20 420.03L165.00 420.03Z" fill="#1d5487"/>
<path d="M167.20 418.45L170.30 424.03L164.10 424.03Z" fill="#1d5487"/>
<path d="M171.50 417.95L174.60 423.53L168.40 423.53Z" fill="#1d5487"/>
<path d="M175.80 418.45L178.90 424.03L172.70 424.03Z" fill="#1d5487"/>
<path d="M170.00 418.65L173.10 424.23L166.90 424.23Z" fill="#1d5487"/>
<line x1="287.40" y1="316.50" x2="287.40" y2="364.00" stroke="#282828" stroke-width="1.2" />
<line x1="284.60" y1="364.00" x2="290.20" y2="364.00" stroke="#282828" stroke-width="1.2" />
<line x1="287.40" y1="373.20" x2="287.40" y2="426.00" stroke="#282828" stroke-width="1.2" />
<line x1="284.60" y1="373.20" x2="290.20" y2="373.20" stroke="#282828" stroke-width="1.2" />
<line x1="286.80" y1="425.50" x2="437.40" y2="425.50" stroke="#282828" stroke-width="1.2" />
<line x1="284.70" y1="324.20" x2="287.40" y2="324.20" stroke="#282828" stroke-width="1" />
<text x="281.90" y="326.80" font-size="8.4" fill="#333" stroke="#333" stroke-width="0.12" text-anchor="end" textLength="12.90" lengthAdjust="spacingAndGlyphs" >100</text>
<line x1="284.70" y1="340.45" x2="287.40" y2="340.45" stroke="#282828" stroke-width="1" />
<text x="281.90" y="343.05" font-size="8.4" fill="#333" stroke="#333" stroke-width="0.12" text-anchor="end" textLength="8.60" lengthAdjust="spacingAndGlyphs" >80</text>
<line x1="284.70" y1="356.70" x2="287.40" y2="356.70" stroke="#282828" stroke-width="1" />
<text x="281.90" y="359.30" font-size="8.4" fill="#333" stroke="#333" stroke-width="0.12" text-anchor="end" textLength="8.60" lengthAdjust="spacingAndGlyphs" >60</text>
<line x1="284.70" y1="425.50" x2="287.40" y2="425.50" stroke="#282828" stroke-width="1" />
<text x="281.90" y="428.10" font-size="8.4" fill="#333" stroke="#333" stroke-width="0.12" text-anchor="end" textLength="10.90" lengthAdjust="spacingAndGlyphs" >0.0</text>
<line x1="284.70" y1="412.43" x2="287.40" y2="412.43" stroke="#282828" stroke-width="1" />
<text x="281.90" y="415.03" font-size="8.4" fill="#333" stroke="#333" stroke-width="0.12" text-anchor="end" textLength="10.90" lengthAdjust="spacingAndGlyphs" >0.5</text>
<line x1="284.70" y1="399.35" x2="287.40" y2="399.35" stroke="#282828" stroke-width="1" />
<text x="281.90" y="401.95" font-size="8.4" fill="#333" stroke="#333" stroke-width="0.12" text-anchor="end" textLength="10.90" lengthAdjust="spacingAndGlyphs" >1.0</text>
<line x1="284.70" y1="386.27" x2="287.40" y2="386.27" stroke="#282828" stroke-width="1" />
<text x="281.90" y="388.88" font-size="8.4" fill="#333" stroke="#333" stroke-width="0.12" text-anchor="end" textLength="10.90" lengthAdjust="spacingAndGlyphs" >1.5</text>
<line x1="284.70" y1="373.20" x2="287.40" y2="373.20" stroke="#282828" stroke-width="1" />
<text x="281.90" y="375.80" font-size="8.4" fill="#333" stroke="#333" stroke-width="0.12" text-anchor="end" textLength="10.90" lengthAdjust="spacingAndGlyphs" >2.0</text>
<line x1="323.30" y1="425.50" x2="323.30" y2="428.10" stroke="#282828" stroke-width="1" />
<line x1="401.50" y1="425.50" x2="401.50" y2="428.10" stroke="#282828" stroke-width="1" />
<text x="310.40" y="438.60" font-size="9.0" fill="#333" stroke="#333" stroke-width="0.25" textLength="25.60" lengthAdjust="spacingAndGlyphs" >Day 28</text>
<text x="389.60" y="438.60" font-size="9.0" fill="#333" stroke="#333" stroke-width="0.25" textLength="24.60" lengthAdjust="spacingAndGlyphs" >Day 42</text>
<text x="346.40" y="452.20" font-size="10.2" fill="#333" stroke="#333" stroke-width="0.25" textLength="33.90" lengthAdjust="spacingAndGlyphs" >Post HSCT</text>
<g transform="translate(253.60 378.90) rotate(-90)"><text x="0" y="0" font-size="9.4" fill="#333" stroke="#333" stroke-width="0.25" textLength="15.20" lengthAdjust="spacingAndGlyphs">Liver</text></g>
<g transform="translate(264.40 409.00) rotate(-90)">
<text x="0" y="0" font-size="10.0" fill="#333" stroke="#333" stroke-width="0.25" textLength="20.18" lengthAdjust="spacingAndGlyphs">% GFP</text>
<text x="21.69" y="-3.2" font-size="6.4" fill="#333" stroke="#333" stroke-width="0.25">+</text>
<text x="27.64" y="0" font-size="10.0" fill="#333" stroke="#333" stroke-width="0.25" textLength="27.86" lengthAdjust="spacingAndGlyphs">MLL-AF9</text>
<text x="56.32" y="-2.8" font-size="6.8" fill="#333" stroke="#333" stroke-width="0.25" textLength="18.98" lengthAdjust="spacingAndGlyphs">BALB/c</text>
</g>
<line x1="343.50" y1="315.50" x2="378.90" y2="315.50" stroke="#4a4a4a" stroke-width="0.95" />
<circle cx="355.72" cy="311.50" r="1.2" fill="#222"/>
<circle cx="359.37" cy="311.50" r="1.2" fill="#222"/>
<circle cx="363.02" cy="311.50" r="1.2" fill="#222"/>
<circle cx="366.67" cy="311.50" r="1.2" fill="#222"/>
<line x1="343.50" y1="328.40" x2="398.00" y2="328.40" stroke="#4a4a4a" stroke-width="0.95" />
<circle cx="365.27" cy="324.50" r="1.2" fill="#222"/>
<circle cx="368.92" cy="324.50" r="1.2" fill="#222"/>
<circle cx="372.57" cy="324.50" r="1.2" fill="#222"/>
<circle cx="376.22" cy="324.50" r="1.2" fill="#222"/>
<circle cx="348.80" cy="333.10" r="3.2" fill="#c8c8c8" stroke="#a9a9a9" stroke-width="0.6"/>
<circle cx="339.80" cy="336.30" r="3.2" fill="#c8c8c8" stroke="#a9a9a9" stroke-width="0.6"/>
<circle cx="343.80" cy="337.40" r="3.2" fill="#c8c8c8" stroke="#a9a9a9" stroke-width="0.6"/>
<circle cx="349.00" cy="338.80" r="3.2" fill="#c8c8c8" stroke="#a9a9a9" stroke-width="0.6"/>
<circle cx="340.40" cy="342.30" r="3.2" fill="#c8c8c8" stroke="#a9a9a9" stroke-width="0.6"/>
<line x1="380.40" y1="378.00" x2="380.40" y2="412.80" stroke="#cf0a3c" stroke-width="1.2" />
<rect x="377.50" y="375.30" width="5.8" height="5.8" fill="#cf0a3c"/>
<rect x="377.50" y="377.90" width="5.8" height="5.8" fill="#cf0a3c"/>
<rect x="377.50" y="380.30" width="5.8" height="5.8" fill="#cf0a3c"/>
<rect x="377.50" y="401.00" width="5.8" height="5.8" fill="#cf0a3c"/>
<rect x="377.50" y="409.90" width="5.8" height="5.8" fill="#cf0a3c"/>
<line x1="373.20" y1="394.20" x2="387.40" y2="394.20" stroke="#111" stroke-width="1.2" />
<line x1="401.90" y1="395.80" x2="401.90" y2="412.00" stroke="#1d5487" stroke-width="1.2" />
<line x1="399.20" y1="395.80" x2="404.60" y2="395.80" stroke="#1d5487" stroke-width="1.2" />
<line x1="399.20" y1="412.00" x2="404.60" y2="412.00" stroke="#1d5487" stroke-width="1.2" />
<path d="M401.90 391.98L404.70 397.02L399.10 397.02Z" fill="#1d5487"/>
<path d="M401.90 396.48L404.70 401.52L399.10 401.52Z" fill="#1d5487"/>
<path d="M401.90 404.78L404.70 409.82L399.10 409.82Z" fill="#1d5487"/>
<path d="M401.90 408.48L404.70 413.52L399.10 413.52Z" fill="#1d5487"/>
<path d="M401.90 411.18L404.70 416.22L399.10 416.22Z" fill="#1d5487"/>
<line x1="394.60" y1="403.80" x2="408.80" y2="403.80" stroke="#333" stroke-width="1.2" />
<line x1="61.30" y1="488.50" x2="61.30" y2="545.40" stroke="#282828" stroke-width="1.2" />
<line x1="58.50" y1="545.40" x2="64.10" y2="545.40" stroke="#282828" stroke-width="1.2" />
<line x1="61.30" y1="553.80" x2="61.30" y2="603.90" stroke="#282828" stroke-width="1.2" />
<line x1="58.50" y1="553.80" x2="64.10" y2="553.80" stroke="#282828" stroke-width="1.2" />
<line x1="60.70" y1="603.40" x2="206.60" y2="603.40" stroke="#282828" stroke-width="1.2" />
<line x1="58.60" y1="492.60" x2="61.30" y2="492.60" stroke="#282828" stroke-width="1" />
<text x="55.10" y="495.20" font-size="8.4" fill="#333" stroke="#333" stroke-width="0.12" text-anchor="end" textLength="8.60" lengthAdjust="spacingAndGlyphs" >80</text>
<line x1="58.60" y1="507.55" x2="61.30" y2="507.55" stroke="#282828" stroke-width="1" />
<text x="55.10" y="510.15" font-size="8.4" fill="#333" stroke="#333" stroke-width="0.12" text-anchor="end" textLength="8.60" lengthAdjust="spacingAndGlyphs" >60</text>
<line x1="58.60" y1="522.50" x2="61.30" y2="522.50" stroke="#282828" stroke-width="1" />
<text x="55.10" y="525.10" font-size="8.4" fill="#333" stroke="#333" stroke-width="0.12" text-anchor="end" textLength="8.60" lengthAdjust="spacingAndGlyphs" >40</text>
<line x1="58.60" y1="537.45" x2="61.30" y2="537.45" stroke="#282828" stroke-width="1" />
<text x="55.10" y="540.05" font-size="8.4" fill="#333" stroke="#333" stroke-width="0.12" text-anchor="end" textLength="8.60" lengthAdjust="spacingAndGlyphs" >20</text>
<line x1="58.60" y1="603.40" x2="61.30" y2="603.40" stroke="#282828" stroke-width="1" />
<text x="55.10" y="606.00" font-size="8.4" fill="#333" stroke="#333" stroke-width="0.12" text-anchor="end" textLength="10.90" lengthAdjust="spacingAndGlyphs" >0.0</text>
<line x1="58.60" y1="593.48" x2="61.30" y2="593.48" stroke="#282828" stroke-width="1" />
<text x="55.10" y="596.08" font-size="8.4" fill="#333" stroke="#333" stroke-width="0.12" text-anchor="end" textLength="10.90" lengthAdjust="spacingAndGlyphs" >0.1</text>
<line x1="58.60" y1="583.56" x2="61.30" y2="583.56" stroke="#282828" stroke-width="1" />
<text x="55.10" y="586.16" font-size="8.4" fill="#333" stroke="#333" stroke-width="0.12" text-anchor="end" textLength="10.90" lengthAdjust="spacingAndGlyphs" >0.2</text>
<line x1="58.60" y1="573.64" x2="61.30" y2="573.64" stroke="#282828" stroke-width="1" />
<text x="55.10" y="576.24" font-size="8.4" fill="#333" stroke="#333" stroke-width="0.12" text-anchor="end" textLength="10.90" lengthAdjust="spacingAndGlyphs" >0.3</text>
<line x1="58.60" y1="563.72" x2="61.30" y2="563.72" stroke="#282828" stroke-width="1" />
<text x="55.10" y="566.32" font-size="8.4" fill="#333" stroke="#333" stroke-width="0.12" text-anchor="end" textLength="10.90" lengthAdjust="spacingAndGlyphs" >0.4</text>
<line x1="58.60" y1="553.80" x2="61.30" y2="553.80" stroke="#282828" stroke-width="1" />
<text x="55.10" y="556.40" font-size="8.4" fill="#333" stroke="#333" stroke-width="0.12" text-anchor="end" textLength="10.90" lengthAdjust="spacingAndGlyphs" >0.5</text>
<line x1="95.80" y1="603.40" x2="95.80" y2="606.00" stroke="#282828" stroke-width="1" />
<line x1="172.30" y1="603.40" x2="172.30" y2="606.00" stroke="#282828" stroke-width="1" />
<text x="82.90" y="616.60" font-size="9.0" fill="#333" stroke="#333" stroke-width="0.25" textLength="25.60" lengthAdjust="spacingAndGlyphs" >Day 28</text>
<text x="160.00" y="616.60" font-size="9.0" fill="#333" stroke="#333" stroke-width="0.25" textLength="25.00" lengthAdjust="spacingAndGlyphs" >Day 42</text>
<text x="118.00" y="629.20" font-size="10.2" fill="#333" stroke="#333" stroke-width="0.25" textLength="32.30" lengthAdjust="spacingAndGlyphs" >Post HSCT</text>
<g transform="translate(27.20 571.50) rotate(-90)"><text x="0" y="0" font-size="10.0" fill="#333" stroke="#333" stroke-width="0.25" textLength="53.60" lengthAdjust="spacingAndGlyphs">Uterus+ovaries</text></g>
<g transform="translate(37.80 582.10) rotate(-90)">
<text x="0" y="0" font-size="10.0" fill="#333" stroke="#333" stroke-width="0.25" textLength="19.70" lengthAdjust="spacingAndGlyphs">% GFP</text>
<text x="21.17" y="-3.2" font-size="6.4" fill="#333" stroke="#333" stroke-width="0.25">+</text>
<text x="26.97" y="0" font-size="10.0" fill="#333" stroke="#333" stroke-width="0.25" textLength="27.20" lengthAdjust="spacingAndGlyphs">MLL-AF9</text>
<text x="54.98" y="-2.8" font-size="6.8" fill="#333" stroke="#333" stroke-width="0.25" textLength="18.52" lengthAdjust="spacingAndGlyphs">BALB/c</text>
</g>
<line x1="115.60" y1="489.20" x2="170.60" y2="489.20" stroke="#777" stroke-width="1.1" />
<circle cx="141.28" cy="485.00" r="1.2" fill="#222"/>
<circle cx="144.93" cy="485.00" r="1.2" fill="#222"/>
<line x1="115.20" y1="500.60" x2="152.40" y2="500.60" stroke="#777" stroke-width="1.1" />
<circle cx="131.98" cy="496.60" r="1.2" fill="#222"/>
<circle cx="135.63" cy="496.60" r="1.2" fill="#222"/>
<line x1="116.50" y1="512.30" x2="116.50" y2="538.30" stroke="#aaa" stroke-width="0.9" />
<line x1="113.00" y1="512.30" x2="119.80" y2="512.30" stroke="#aaa" stroke-width="0.9" />
<line x1="113.00" y1="538.30" x2="119.80" y2="538.30" stroke="#aaa" stroke-width="0.9" />
<circle cx="116.50" cy="509.60" r="2.7" fill="#c6c6c6" stroke="#b5b5b5" stroke-width="0.6"/>
<circle cx="116.50" cy="517.80" r="2.7" fill="#c6c6c6" stroke="#b5b5b5" stroke-width="0.6"/>
<circle cx="112.20" cy="525.00" r="2.7" fill="#c6c6c6" stroke="#b5b5b5" stroke-width="0.6"/>
<circle cx="120.60" cy="529.60" r="2.7" fill="#c6c6c6" stroke="#b5b5b5" stroke-width="0.6"/>
<circle cx="116.50" cy="544.20" r="2.7" fill="#c6c6c6" stroke="#b5b5b5" stroke-width="0.6"/>
<line x1="115.00" y1="525.40" x2="123.50" y2="525.40" stroke="#111" stroke-width="1.3" />
<line x1="151.70" y1="588.00" x2="151.70" y2="597.00" stroke="#cf0a3c" stroke-width="1" />
<line x1="148.70" y1="592.40" x2="154.70" y2="592.40" stroke="#cf0a3c" stroke-width="1" />
<rect x="148.90" y="585.10" width="5.6" height="5.6" fill="#cf0a3c"/>
<rect x="145.20" y="594.40" width="5.6" height="5.6" fill="#cf0a3c"/>
<rect x="149.20" y="593.70" width="5.6" height="5.6" fill="#cf0a3c"/>
<rect x="153.20" y="594.60" width="5.6" height="5.6" fill="#cf0a3c"/>
<rect x="147.20" y="595.40" width="5.6" height="5.6" fill="#cf0a3c"/>
<line x1="172.40" y1="570.80" x2="172.40" y2="590.00" stroke="#1d5487" stroke-width="1.1" />
<line x1="169.40" y1="570.80" x2="175.40" y2="570.80" stroke="#1d5487" stroke-width="1.1" />
<path d="M172.40 566.34L175.60 572.10L169.20 572.10Z" fill="#1d5487"/>
<path d="M172.40 575.54L175.60 581.30L169.20 581.30Z" fill="#1d5487"/>
<path d="M169.00 585.74L172.20 591.50L165.80 591.50Z" fill="#1d5487"/>
<path d="M176.30 585.74L179.50 591.50L173.10 591.50Z" fill="#1d5487"/>
<line x1="165.50" y1="580.60" x2="179.80" y2="580.60" stroke="#222" stroke-width="1.1" />
<line x1="287.40" y1="488.50" x2="287.40" y2="540.50" stroke="#282828" stroke-width="1.2" />
<line x1="284.60" y1="540.50" x2="290.20" y2="540.50" stroke="#282828" stroke-width="1.2" />
<line x1="287.40" y1="548.50" x2="287.40" y2="603.90" stroke="#282828" stroke-width="1.2" />
<line x1="284.60" y1="548.50" x2="290.20" y2="548.50" stroke="#282828" stroke-width="1.2" />
<line x1="286.80" y1="603.40" x2="405.90" y2="603.40" stroke="#282828" stroke-width="1.2" />
<line x1="284.70" y1="492.60" x2="287.40" y2="492.60" stroke="#282828" stroke-width="1" />
<text x="281.90" y="495.20" font-size="8.4" fill="#333" stroke="#333" stroke-width="0.12" text-anchor="end" textLength="4.30" lengthAdjust="spacingAndGlyphs" >6</text>
<line x1="284.70" y1="510.30" x2="287.40" y2="510.30" stroke="#282828" stroke-width="1" />
<text x="281.90" y="512.90" font-size="8.4" fill="#333" stroke="#333" stroke-width="0.12" text-anchor="end" textLength="4.30" lengthAdjust="spacingAndGlyphs" >4</text>
<line x1="284.70" y1="528.00" x2="287.40" y2="528.00" stroke="#282828" stroke-width="1" />
<text x="281.90" y="530.60" font-size="8.4" fill="#333" stroke="#333" stroke-width="0.12" text-anchor="end" textLength="4.30" lengthAdjust="spacingAndGlyphs" >2</text>
<line x1="284.70" y1="556.30" x2="287.40" y2="556.30" stroke="#282828" stroke-width="1" />
<text x="281.90" y="558.90" font-size="8.4" fill="#333" stroke="#333" stroke-width="0.12" text-anchor="end" textLength="10.90" lengthAdjust="spacingAndGlyphs" >0.2</text>
<line x1="284.70" y1="572.00" x2="287.40" y2="572.00" stroke="#282828" stroke-width="1" />
<text x="281.90" y="574.60" font-size="8.4" fill="#333" stroke="#333" stroke-width="0.12" text-anchor="end" textLength="10.90" lengthAdjust="spacingAndGlyphs" >0.1</text>
<line x1="284.70" y1="587.70" x2="287.40" y2="587.70" stroke="#282828" stroke-width="1" />
<text x="281.90" y="590.30" font-size="8.4" fill="#333" stroke="#333" stroke-width="0.12" text-anchor="end" textLength="10.90" lengthAdjust="spacingAndGlyphs" >0.0</text>
<line x1="284.70" y1="603.40" x2="287.40" y2="603.40" stroke="#282828" stroke-width="1" />
<text x="281.90" y="606.00" font-size="8.4" fill="#333" stroke="#333" stroke-width="0.12" text-anchor="end" textLength="15.50" lengthAdjust="spacingAndGlyphs" >−0.1</text>
<line x1="315.60" y1="603.40" x2="315.60" y2="606.00" stroke="#282828" stroke-width="1" />
<line x1="377.00" y1="603.40" x2="377.00" y2="606.00" stroke="#282828" stroke-width="1" />
<text x="303.00" y="616.60" font-size="9.0" fill="#333" stroke="#333" stroke-width="0.25" textLength="25.00" lengthAdjust="spacingAndGlyphs" >Day 28</text>
<text x="364.30" y="616.60" font-size="9.0" fill="#333" stroke="#333" stroke-width="0.25" textLength="25.00" lengthAdjust="spacingAndGlyphs" >Day 42</text>
<text x="330.00" y="629.40" font-size="10.2" fill="#333" stroke="#333" stroke-width="0.25" textLength="33.70" lengthAdjust="spacingAndGlyphs" >Post HSCT</text>
<line x1="288.50" y1="587.70" x2="404.30" y2="587.70" stroke="#444" stroke-width="1" stroke-dasharray="1.2 2.2"/>
<g transform="translate(249.20 561.60) rotate(-90)"><text x="0" y="0" font-size="10.0" fill="#333" stroke="#333" stroke-width="0.25" textLength="34.40" lengthAdjust="spacingAndGlyphs">Spinal cord</text></g>
<g transform="translate(260.80 583.50) rotate(-90)">
<text x="0" y="0" font-size="10.0" fill="#333" stroke="#333" stroke-width="0.25" textLength="19.89" lengthAdjust="spacingAndGlyphs">% GFP</text>
<text x="21.37" y="-3.2" font-size="6.4" fill="#333" stroke="#333" stroke-width="0.25">+</text>
<text x="27.23" y="0" font-size="10.0" fill="#333" stroke="#333" stroke-width="0.25" textLength="27.45" lengthAdjust="spacingAndGlyphs">MLL-AF9</text>
<text x="55.50" y="-2.8" font-size="6.8" fill="#333" stroke="#333" stroke-width="0.25" textLength="18.70" lengthAdjust="spacingAndGlyphs">BALB/c</text>
</g>
<line x1="333.00" y1="495.60" x2="373.80" y2="495.60" stroke="#666" stroke-width="1.1" />
<circle cx="351.57" cy="491.30" r="1.2" fill="#222"/>
<circle cx="355.22" cy="491.30" r="1.2" fill="#222"/>
<line x1="333.00" y1="506.20" x2="361.30" y2="506.20" stroke="#666" stroke-width="1.1" />
<circle cx="345.32" cy="502.30" r="1.2" fill="#222"/>
<circle cx="348.97" cy="502.30" r="1.2" fill="#222"/>
<line x1="331.90" y1="516.00" x2="331.90" y2="540.00" stroke="#aaa" stroke-width="0.9" />
<circle cx="331.90" cy="513.80" r="2.7" fill="#c6c6c6" stroke="#b5b5b5" stroke-width="0.6"/>
<circle cx="329.20" cy="524.60" r="2.7" fill="#c6c6c6" stroke="#b5b5b5" stroke-width="0.6"/>
<circle cx="335.00" cy="524.60" r="2.7" fill="#c6c6c6" stroke="#b5b5b5" stroke-width="0.6"/>
<circle cx="329.20" cy="539.40" r="2.7" fill="#c6c6c6" stroke="#b5b5b5" stroke-width="0.6"/>
<circle cx="335.00" cy="539.40" r="2.7" fill="#c6c6c6" stroke="#b5b5b5" stroke-width="0.6"/>
<line x1="326.70" y1="528.50" x2="338.30" y2="528.50" stroke="#111" stroke-width="1.3" />
<rect x="355.10" y="584.80" width="4.8" height="4.8" fill="#cf0a3c"/>
<rect x="358.60" y="584.20" width="4.8" height="4.8" fill="#cf0a3c"/>
<rect x="361.20" y="585.20" width="4.8" height="4.8" fill="#cf0a3c"/>
<rect x="357.10" y="585.80" width="4.8" height="4.8" fill="#cf0a3c"/>
<line x1="377.00" y1="565.70" x2="377.00" y2="592.70" stroke="#1d5487" stroke-width="1.1" />
<line x1="374.20" y1="565.70" x2="379.80" y2="565.70" stroke="#1d5487" stroke-width="1.1" />
<line x1="374.20" y1="592.70" x2="379.80" y2="592.70" stroke="#1d5487" stroke-width="1.1" />
<line x1="371.30" y1="579.30" x2="382.80" y2="579.30" stroke="#222" stroke-width="1.1" />
<path d="M377.00 557.18L379.80 562.22L374.20 562.22Z" fill="#1d5487"/>
<path d="M374.50 584.78L377.30 589.82L371.70 589.82Z" fill="#1d5487"/>
<path d="M379.50 584.78L382.30 589.82L376.70 589.82Z" fill="#1d5487"/>
<path d="M377.00 583.48L379.80 588.52L374.20 588.52Z" fill="#1d5487"/>
<line x1="80.50" y1="643.30" x2="90.50" y2="643.30" stroke="#bbb" stroke-width="1" />
<circle cx="85.50" cy="643.30" r="2.1" fill="#c4c4c4" stroke="#b0b0b0" stroke-width="0.5"/>
<text x="93.75" y="645.90" font-size="6.9" fill="#333" stroke="#333" stroke-width="0.05" textLength="51.20" lengthAdjust="spacingAndGlyphs" >BM + MLL-AF9</text>
<text x="145.60" y="643.00" font-size="4.7" fill="#333" stroke="#333" stroke-width="0.05" textLength="17.40" lengthAdjust="spacingAndGlyphs" >BALB/c</text>
<line x1="169.60" y1="644.30" x2="180.40" y2="644.30" stroke="#cf0a3c" stroke-width="1" />
<rect x="173.00" y="642.10" width="4.4" height="4.4" fill="#cf0a3c"/>
<text x="183.50" y="646.80" font-size="6.9" fill="#333" stroke="#333" stroke-width="0.05" textLength="73.80" lengthAdjust="spacingAndGlyphs" >No Treatment + BM +</text>
<text x="183.50" y="656.00" font-size="6.9" fill="#333" stroke="#333" stroke-width="0.05" textLength="79.30" lengthAdjust="spacingAndGlyphs" >Splenocytes + MLL-AF9</text>
<text x="263.30" y="653.40" font-size="4.7" fill="#333" stroke="#333" stroke-width="0.05" textLength="19.60" lengthAdjust="spacingAndGlyphs" >BALB/c</text>
<line x1="288.60" y1="644.30" x2="299.00" y2="644.30" stroke="#1d5487" stroke-width="1" />
<path d="M293.80 641.71L296.20 646.03L291.40 646.03Z" fill="#1d5487"/>
<text x="303.00" y="646.80" font-size="6.9" fill="#333" stroke="#333" stroke-width="0.05" textLength="60.00" lengthAdjust="spacingAndGlyphs" >Treatment + BM +</text>
<text x="303.00" y="656.00" font-size="6.9" fill="#333" stroke="#333" stroke-width="0.05" textLength="79.30" lengthAdjust="spacingAndGlyphs" >Splenocytes + MLL-AF9</text>
<text x="382.80" y="653.40" font-size="4.7" fill="#333" stroke="#333" stroke-width="0.05" textLength="17.60" lengthAdjust="spacingAndGlyphs" >BALB/c</text>
<rect x="0.5" y="0.5" width="519" height="663" fill="none" stroke="#585858" stroke-width="1"/>
</svg>
</body></html>
